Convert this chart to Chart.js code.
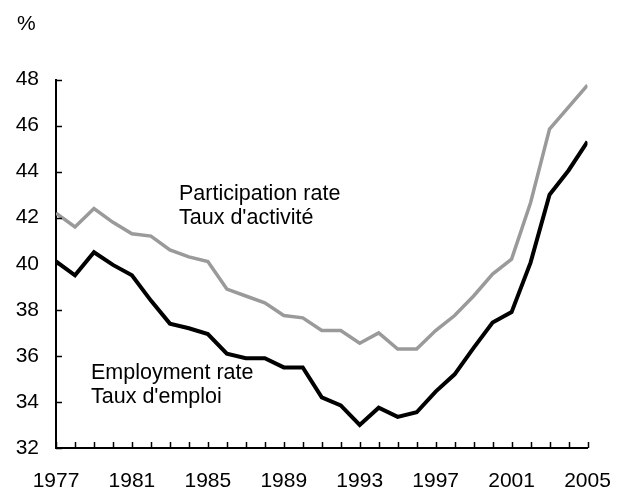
<!DOCTYPE html>
<html>
<head>
<meta charset="utf-8">
<script src="https://cdn.jsdelivr.net/npm/chart.js@4.4.1/dist/chart.umd.min.js"></script>
<style>
  html, body { margin: 0; padding: 0; background: #fff; }
  #wrap { width: 623px; height: 489px; position: relative; }
</style>
</head>
<body>
<div id="wrap"><canvas id="c" width="623" height="489"></canvas></div>
<script>
const years = [1977,1978,1979,1980,1981,1982,1983,1984,1985,1986,1987,1988,1989,1990,1991,1992,1993,1994,1995,1996,1997,1998,1999,2000,2001,2002,2003,2004,2005];
const participation = [42.2,41.6,42.4,41.8,41.3,41.2,40.6,40.3,40.1,38.9,38.6,38.3,37.75,37.65,37.1,37.1,36.55,37.0,36.3,36.3,37.1,37.75,38.6,39.55,40.2,42.65,45.85,46.8,47.75];
const employment = [40.1,39.5,40.5,39.95,39.5,38.4,37.4,37.2,36.95,36.1,35.9,35.9,35.5,35.5,34.2,33.85,33.0,33.75,33.35,33.55,34.45,35.2,36.35,37.45,37.9,40.05,43.0,44.05,45.3];
const yTicks = [32,34,36,38,40,42,44,46,48];
const xLabelYears = [1977,1981,1985,1989,1993,1997,2001,2005];
const unitLabel = '%';
const participationLabel = ['Participation rate', "Taux d'activité"];
const employmentLabel = ['Employment rate', "Taux d'emploi"];

const FONT = '"Liberation Sans", Arial, sans-serif';

const decor = {
  id: 'decor',
  afterDraw(chart) {
    const ctx = chart.ctx;
    const xs = chart.scales.x, ys = chart.scales.y;
    const a = chart.chartArea;
    ctx.save();
    ctx.strokeStyle = '#000';
    ctx.lineWidth = 1.5;
    // x tick marks (inside, every year)
    years.forEach(yr => {
      const px = Math.round(xs.getPixelForValue(yr)) + 0.5;
      ctx.beginPath();
      ctx.moveTo(px, a.bottom);
      ctx.lineTo(px, a.bottom - 6);
      ctx.stroke();
    });
    // y tick marks (inside)
    yTicks.forEach(v => {
      const py = Math.round(ys.getPixelForValue(v)) + 0.5;
      ctx.beginPath();
      ctx.moveTo(a.left, py);
      ctx.lineTo(a.left + 6, py);
      ctx.stroke();
    });
    // texts
    ctx.fillStyle = '#000';
    ctx.textBaseline = 'middle';
    ctx.textAlign = 'left';
    ctx.font = '21px ' + FONT;
    ctx.fillText(unitLabel, 17, 24);
    ctx.font = '21.5px ' + FONT;
    ctx.fillText(participationLabel[0], 179, 194);
    ctx.fillText(participationLabel[1], 179, 218);
    ctx.fillText(employmentLabel[0], 91, 373);
    ctx.fillText(employmentLabel[1], 91, 397.5);
    ctx.restore();
  }
};

new Chart(document.getElementById('c'), {
  type: 'line',
  data: {
    datasets: [
      {
        label: 'Participation rate',
        data: years.map((y, i) => ({ x: y, y: participation[i] })),
        borderColor: '#9a9a9a',
        borderWidth: 3.5,
        pointRadius: 0,
        tension: 0,
        fill: false
      },
      {
        label: 'Employment rate',
        data: years.map((y, i) => ({ x: y, y: employment[i] })),
        borderColor: '#000000',
        borderWidth: 4,
        pointRadius: 0,
        tension: 0,
        fill: false
      }
    ]
  },
  options: {
    responsive: false,
    animation: false,
    devicePixelRatio: 1,
    layout: { padding: { top: 79.5, right: 35.5, left: 0, bottom: 0 } },
    plugins: { legend: { display: false }, tooltip: { enabled: false }, title: { display: false } },
    scales: {
      x: {
        type: 'linear',
        min: 1977,
        max: 2005,
        afterFit(s) { s.height = 41; s.paddingLeft = 0; s.paddingRight = 0; },
        afterBuildTicks(s) { s.ticks = xLabelYears.map(v => ({ value: v })); },
        grid: { display: false, drawTicks: false },
        border: { display: true, color: '#000', width: 2 },
        ticks: {
          color: '#000',
          font: { family: FONT, size: 21 },
          padding: 21,
          maxRotation: 0,
          autoSkip: false,
          callback: v => String(v)
        }
      },
      y: {
        min: 32,
        max: 48,
        afterFit(s) { s.width = 56; s.paddingTop = 0; s.paddingBottom = 0; },
        afterBuildTicks(s) { s.ticks = yTicks.map(v => ({ value: v })); },
        grid: { display: false, drawTicks: false },
        border: { display: true, color: '#000', width: 2 },
        ticks: {
          color: '#000',
          font: { family: FONT, size: 21 },
          padding: 17,
          autoSkip: false,
          callback: v => String(v)
        }
      }
    }
  },
  plugins: [decor]
});
</script>
</body>
</html>
